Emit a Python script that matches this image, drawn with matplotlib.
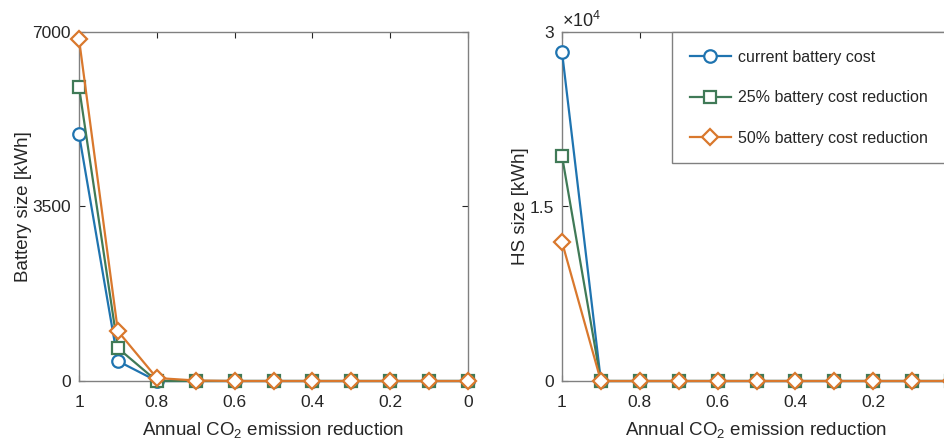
import numpy as np
import matplotlib.pyplot as plt
from matplotlib.ticker import FuncFormatter

plt.rcParams['font.family'] = ['Liberation Sans', 'DejaVu Sans']
plt.rcParams['mathtext.fontset'] = 'custom'
plt.rcParams['mathtext.rm'] = 'Liberation Sans'

# emission reduction levels (x axis, reversed)
reduction = [1.0, 0.9, 0.8, 0.7, 0.6, 0.5, 0.4, 0.3, 0.2, 0.1, 0.0]

labels = ['current battery cost', '25% battery cost reduction', '50% battery cost reduction']

# battery size [kWh]
battery_current = [4950, 400, 0, 0, 0, 0, 0, 0, 0, 0, 0]
battery_25 = [5900, 660, 0, 0, 0, 0, 0, 0, 0, 0, 0]
battery_50 = [6860, 1000, 60, 10, 0, 0, 0, 0, 0, 0, 0]

# hydrogen storage size [kWh]
hs_current = [28300, 0, 0, 0, 0, 0, 0, 0, 0, 0, 0]
hs_25 = [19350, 0, 0, 0, 0, 0, 0, 0, 0, 0, 0]
hs_50 = [11950, 0, 0, 0, 0, 0, 0, 0, 0, 0, 0]

colors = ['#1f74b0', '#407a57', '#d9782d']
markers = ['o', 's', 'D']
msizes = [9, 8, 8]

W, H = 945, 440
fig = plt.figure(figsize=(W / 100, H / 100), dpi=100)


def make_axes(left, right, top, bottom):
    return fig.add_axes([left / W, 1 - bottom / H, (right - left) / W, (bottom - top) / H])


def style(ax, xticks):
    ax.set_xlim(1, 0)
    ax.set_xticks(xticks)
    ax.xaxis.set_major_formatter(FuncFormatter(lambda v, p: '%g' % v))
    ax.tick_params(direction='in', top=True, right=True, labelsize=12.5,
                   colors='#262626', length=4, width=0.8, pad=6)
    ax.tick_params(axis='x', pad=10)
    for s in ax.spines.values():
        s.set_color('#808080')
        s.set_linewidth(1.0)
    ax.set_xlabel('Annual CO$_2$ emission reduction', fontsize=13.5, color='#262626', labelpad=8)


ax1 = make_axes(79, 468, 32, 381)
series1 = [battery_current, battery_25, battery_50]
for vals, c, m, ms, lab in zip(series1, colors, markers, msizes, labels):
    ax1.plot(reduction, vals, color=c, marker=m, markersize=ms, markerfacecolor='white',
             markeredgewidth=1.6, linewidth=1.6, label=lab, clip_on=False, zorder=3)
style(ax1, [1, 0.8, 0.6, 0.4, 0.2, 0])
ax1.set_ylim(0, 7000)
ax1.set_yticks([0, 3500, 7000])
ax1.set_ylabel('Battery size [kWh]', fontsize=13.5, color='#262626', labelpad=0)

# right panel runs past the figure edge, as in the original
ax2 = make_axes(562, 951, 32, 381)
series2 = [hs_current, hs_25, hs_50]
for vals, c, m, ms, lab in zip(series2, colors, markers, msizes, labels):
    ax2.plot(reduction, vals, color=c, marker=m, markersize=ms, markerfacecolor='white',
             markeredgewidth=1.6, linewidth=1.6, label=lab, clip_on=False, zorder=3)
style(ax2, [1, 0.8, 0.6, 0.4, 0.2])
ax2.set_ylim(0, 30000)
ax2.set_yticks([0, 15000, 30000])
ax2.yaxis.set_major_formatter(FuncFormatter(lambda v, p: '%g' % (v / 1e4)))
ax2.set_ylabel('HS size [kWh]', fontsize=13.5, color='#262626', labelpad=0)
ax2.text(0, 1.003, r'$\times10^4$', transform=ax2.transAxes, fontsize=13,
         color='#262626', ha='left', va='bottom')

# legend box runs off the right edge too
leg = ax2.legend(loc='upper left', bbox_to_anchor=(0.283, 0.0, 0.77, 1.0), mode='expand',
                 borderaxespad=0, fontsize=11.5, handlelength=2.6, labelspacing=1.6,
                 borderpad=1.1, handletextpad=0.4, fancybox=False, framealpha=1)
leg.get_frame().set_edgecolor('#808080')
leg.get_frame().set_linewidth(1.0)
for t in leg.get_texts():
    t.set_color('#262626')

fig.savefig('out.png', dpi=100)
